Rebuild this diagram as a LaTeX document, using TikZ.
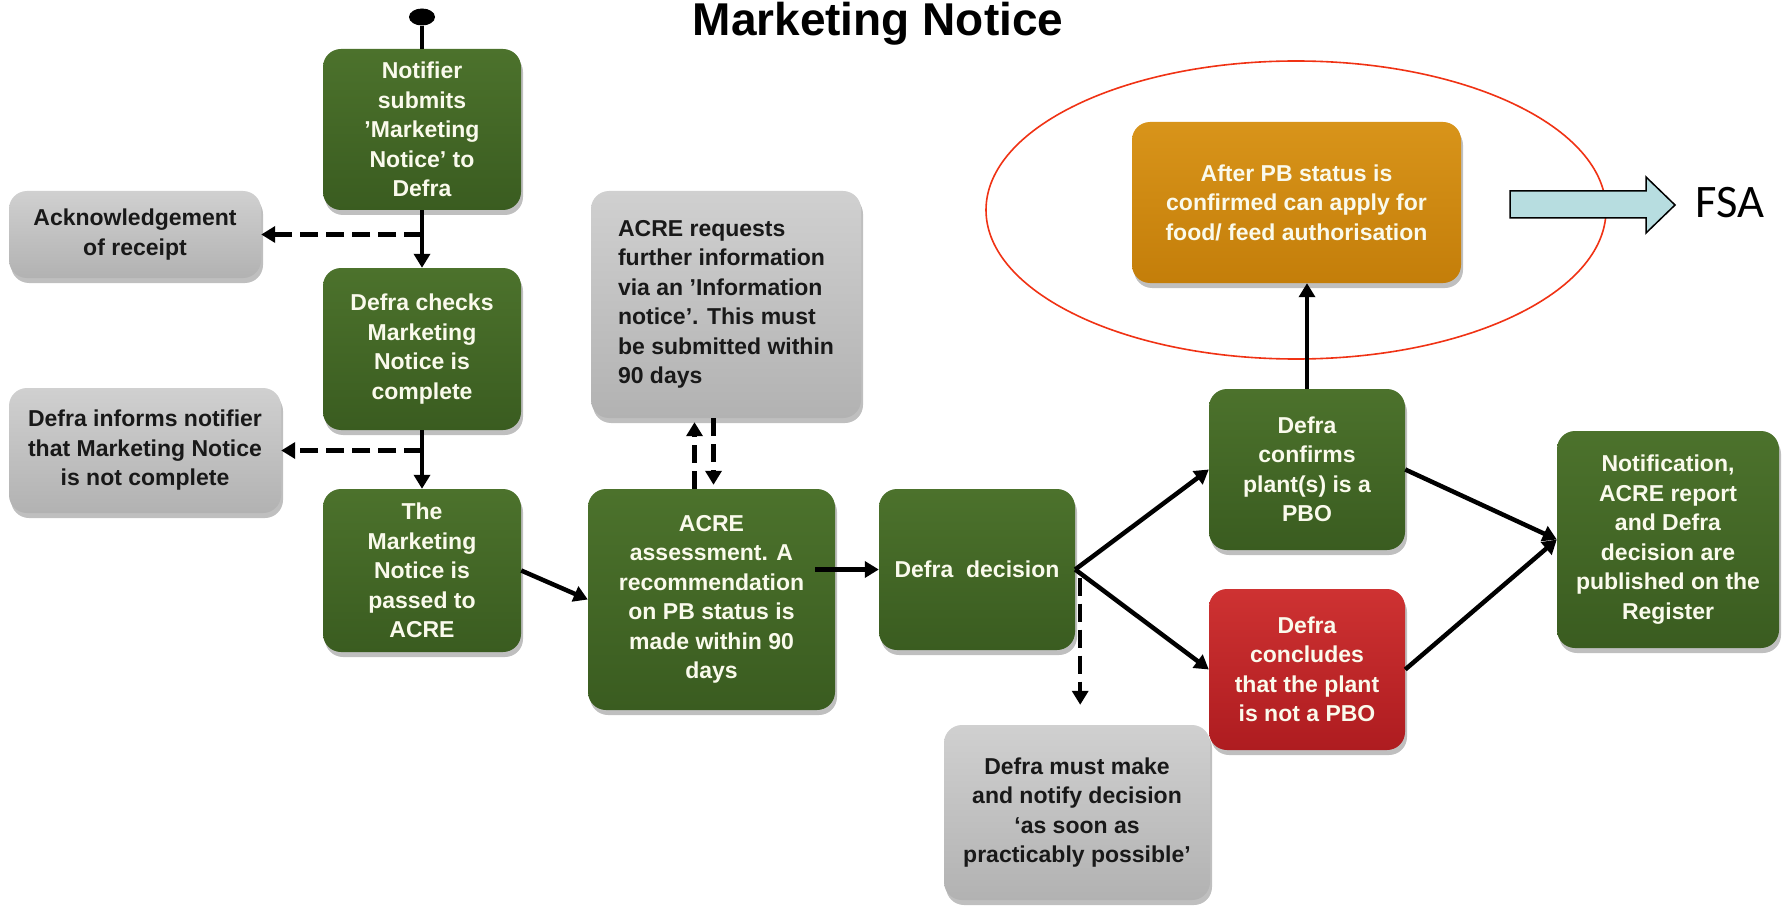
\documentclass[tikz,border=0pt]{standalone}
\usepackage{fontspec}
\setmainfont{Liberation Sans}
\newfontfamily\fsafont{Carlito}
\usetikzlibrary{arrows.meta,shapes.geometric,shadows,calc}
\definecolor{gtop}{RGB}{76,114,44}
\definecolor{gbot}{RGB}{58,92,32}
\definecolor{graytop}{RGB}{208,208,208}
\definecolor{graybot}{RGB}{178,178,178}
\definecolor{otop}{RGB}{216,148,26}
\definecolor{obot}{RGB}{196,126,10}
\definecolor{rtop}{RGB}{206,50,50}
\definecolor{rbot}{RGB}{174,28,32}
\definecolor{ellred}{RGB}{240,50,20}
\definecolor{fsafill}{RGB}{183,221,224}
\definecolor{cream}{RGB}{250,250,236}
\newcommand\boxfont{\bfseries\fontsize{23}{29.5}\selectfont}
\tikzset{
  box/.style={rounded corners=18pt, inner sep=0pt, align=center, font=\boxfont,
    drop shadow={shadow xshift=2pt, shadow yshift=-5pt, opacity=0.25, fill=black}},
  greenbox/.style={box, top color=gtop, bottom color=gbot, text=cream},
  graybox/.style={box, top color=graytop, bottom color=graybot, text=black!90},
  orangebox/.style={box, top color=otop, bottom color=obot, text=cream},
  redbox/.style={box, top color=rtop, bottom color=rbot, text=cream},
  plainline/.style={line width=4.5pt},
  conn/.style={line width=4.5pt, -{Triangle[length=14pt,width=16pt]}},
  dconn/.style={line width=4.5pt, dash pattern=on 18pt off 8pt, -{Triangle[length=14pt,width=16pt]}},
}
\begin{document}
\begin{tikzpicture}[x=1pt,y=-1pt]
\useasboundingbox (0,0) rectangle (1787,909);
\clip (0,0) rectangle (1787,909);
\fill[white] (0,0) rectangle (1787,909);

% title
\node[anchor=base, font=\bfseries\fontsize{46}{50}\selectfont, inner sep=0pt] (title) at (878,36) {Marketing Notice};

% start dot
\node[ellipse, fill=black, minimum width=26pt, minimum height=17pt, inner sep=0pt] (start) at (422,17) {};

% boxes
\node[greenbox, minimum width=198pt, minimum height=161pt] (notif) at (422,129.5)
  {Notifier\\submits\\’Marketing\\Notice’ to\\Defra};
\node[graybox, minimum width=252pt, minimum height=87pt] (ack) at (135,234.5)
  {Acknowledgement\\of receipt};
\node[greenbox, minimum width=198pt, minimum height=162pt] (check) at (422,349)
  {Defra checks\\Marketing\\Notice is\\complete};
\node[graybox, minimum width=272pt, minimum height=125pt] (inform) at (145,450.5)
  {Defra informs notifier\\that Marketing Notice\\is not complete};
\node[greenbox, minimum width=198pt, minimum height=163pt] (passed) at (422,570.5)
  {The\\Marketing\\Notice is\\passed to\\ACRE};
\node[graybox, align=left, minimum width=270pt, minimum height=227pt] (acrereq) at (726,304.5)
  {ACRE requests\\further information\\via an ’Information\\notice’. This must\\be submitted within\\90 days};
\node[greenbox, minimum width=247pt, minimum height=221pt] (assess) at (711.5,599.5)
  {ACRE\\assessment. A\\recommendation\\on PB status is\\made within 90\\days};
\node[greenbox, minimum width=196pt, minimum height=161pt] (decision) at (977,569.5)
  {Defra~~decision};
\node[greenbox, minimum width=196pt, minimum height=161pt] (confirms) at (1307,469.5)
  {Defra\\confirms\\plant(s) is a\\PBO};
\node[redbox, minimum width=196pt, minimum height=161pt] (concludes) at (1307,669.5)
  {Defra\\concludes\\that the plant\\is not a PBO};
\node[greenbox, minimum width=222pt, minimum height=217pt] (notification) at (1668,539.5)
  {Notification,\\ACRE report\\and Defra\\decision are\\published on the\\Register};
\node[graybox, minimum width=266pt, minimum height=175pt] (must) at (1077,812.5)
  {Defra must make\\and notify decision\\‘as soon as\\practicably possible’};
\node[orangebox, minimum width=329pt, minimum height=161pt] (afterpb) at (1296.5,202.5)
  {After PB status is\\confirmed can apply for\\food/ feed authorisation};

% red ellipse highlight
\draw[ellred, line width=1.6pt] (1296,210) ellipse [x radius=310, y radius=149];

% FSA block arrow and label
\node[anchor=base, font=\fsafont\fontsize{46.6}{50}\selectfont, inner sep=0pt] (fsa) at (1730,218) {FSA};
\draw[black, line width=1.5pt, fill=fsafill] (1510,191) -- (1646,191) -- (1646,177) -- (1675,205)
  -- (1646,233) -- (1646,218) -- (1510,218) -- cycle;

% connectors
\draw[plainline] (start) -- (notif.north);
\draw[conn] (notif) -- (check);
\draw[dconn] (notif.south |- ack.east) -- (ack.east);
\draw[conn] (check) -- (passed);
\draw[dconn] (check.south |- inform.east) -- (inform.east);
\draw[conn] (passed.east) -- (assess.west);
\draw[conn] ($(assess.east |- decision.west)+(-20,0)$) -- (decision.west);
\draw[dconn] ($(assess.north)+(-17,0)$) -- ($(assess.north |- acrereq.south)+(-17,4)$);
\draw[dconn] ($(acrereq.south -| assess.north)+(2,0)$) -- ($(assess.north)+(2,-4)$);
\draw[conn] (decision.east) -- (confirms.west);
\draw[conn] (decision.east) -- (concludes.west);
\draw[dconn] ($(decision.east)+(5,8)$) -- ($(decision.east |- must.north)+(5,-20)$);
\draw[conn] (confirms.east) -- (notification.west);
\draw[conn] (concludes.east) -- (notification.west);
\draw[conn] (confirms.north) -- (confirms.north |- afterpb.south);
\end{tikzpicture}
\end{document}
